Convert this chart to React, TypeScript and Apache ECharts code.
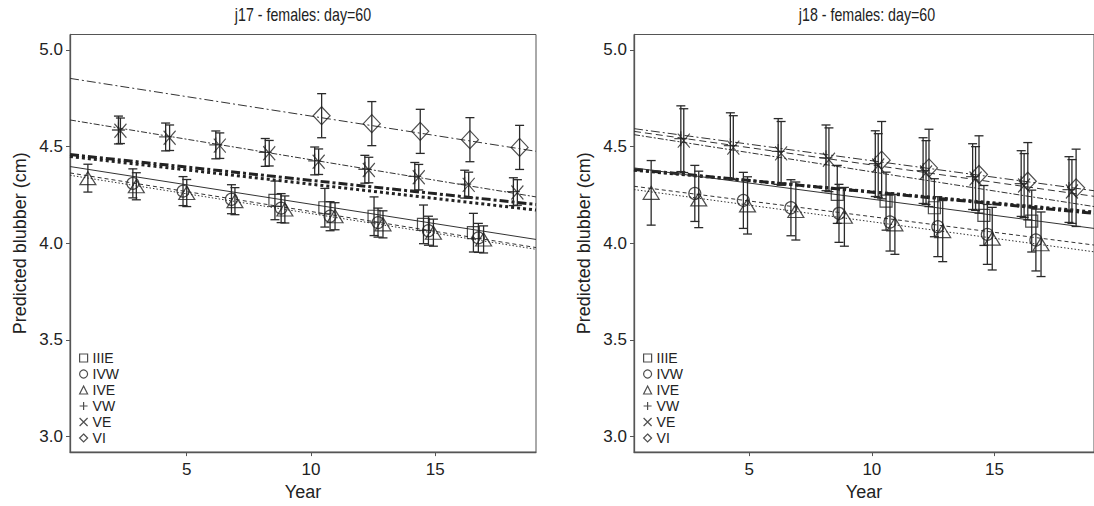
import React, { useEffect, useRef } from "react";
import * as echarts from "echarts";

const groups = ["IIIE", "IVW", "IVE", "VW", "VE", "VI"];
const panelTitles = ["j17 - females: day=60", "j18 - females: day=60"];
const xTicks = [5, 10, 15];
const yTicks = [3.0, 3.5, 4.0, 4.5, 5.0];
const xLimits = [0.3, 19.06];
const yLimits = [2.92, 5.08];

// [year, predicted blubber, half-width of error bar]
const j17_IIIE = [[8.55, 4.222, 0.1], [10.56, 4.184, 0.1], [12.54, 4.14, 0.1], [14.53, 4.098, 0.1], [16.54, 4.055, 0.1]];
const j17_IVW = [[2.83, 4.31, 0.075], [4.85, 4.27, 0.075], [6.8, 4.228, 0.075], [8.8, 4.182, 0.075], [10.77, 4.14, 0.075], [12.7, 4.107, 0.075], [14.73, 4.065, 0.075], [16.74, 4.028, 0.075]];
const j17_IVE = [[1.02, 4.337, 0.072], [2.97, 4.295, 0.07], [5.0, 4.26, 0.07], [6.94, 4.218, 0.07], [8.95, 4.175, 0.07], [10.97, 4.14, 0.07], [12.9, 4.098, 0.07], [14.93, 4.055, 0.07], [16.95, 4.02, 0.07]];
const j17_VW = [[2.25, 4.586, 0.072], [4.15, 4.55, 0.072], [6.17, 4.509, 0.072], [8.16, 4.47, 0.072], [10.15, 4.426, 0.072], [12.17, 4.383, 0.072], [14.18, 4.346, 0.072], [16.19, 4.306, 0.072], [18.15, 4.267, 0.072]];
const j17_VE = [[2.33, 4.582, 0.066], [4.31, 4.546, 0.066], [6.33, 4.505, 0.066], [8.32, 4.466, 0.066], [10.31, 4.422, 0.066], [12.33, 4.379, 0.066], [14.34, 4.342, 0.066], [16.35, 4.302, 0.066], [18.31, 4.263, 0.066]];
const j17_VI = [[10.43, 4.66, 0.114], [12.45, 4.619, 0.114], [14.4, 4.579, 0.114], [16.4, 4.536, 0.114], [18.4, 4.496, 0.114]];

const j18_IIIE = [[8.59, 4.253, 0.15], [10.58, 4.218, 0.15], [12.55, 4.184, 0.15], [14.57, 4.144, 0.155], [16.52, 4.115, 0.16]];
const j18_IVW = [[2.78, 4.258, 0.145], [4.76, 4.222, 0.145], [6.7, 4.184, 0.145], [8.66, 4.155, 0.15], [10.74, 4.11, 0.15], [12.69, 4.086, 0.155], [14.71, 4.046, 0.155], [16.69, 4.017, 0.16]];
const j18_IVE = [[1.0, 4.261, 0.167], [2.94, 4.227, 0.146], [4.93, 4.196, 0.148], [6.9, 4.167, 0.15], [8.88, 4.137, 0.152], [10.94, 4.098, 0.155], [12.89, 4.063, 0.158], [14.91, 4.024, 0.162], [16.9, 3.995, 0.167]];
const j18_VW = [[2.21, 4.541, 0.17], [4.23, 4.505, 0.17], [6.18, 4.475, 0.17], [8.13, 4.442, 0.17], [10.14, 4.412, 0.17], [12.09, 4.376, 0.17], [14.11, 4.345, 0.17], [16.09, 4.309, 0.17], [18.04, 4.278, 0.17]];
const j18_VE = [[2.33, 4.531, 0.165], [4.35, 4.495, 0.165], [6.3, 4.465, 0.165], [8.25, 4.432, 0.165], [10.26, 4.402, 0.165], [12.21, 4.366, 0.165], [14.23, 4.335, 0.165], [16.21, 4.299, 0.165], [18.16, 4.268, 0.165]];
const j18_VI = [[10.4, 4.43, 0.2], [12.33, 4.39, 0.2], [14.37, 4.356, 0.2], [16.36, 4.321, 0.2], [18.33, 4.287, 0.2]];

// fitted lines: [value at left axis limit, value at right axis limit], in group order
const j17_fits = [[4.397, 4.02], [4.364, 3.978], [4.352, 3.969], null, [4.638, 4.24], [4.853, 4.476]];
const j18_fits = [[4.39, 4.077], [4.295, 3.991], [4.278, 3.956], [4.579, 4.243], [4.562, 4.19], [4.593, 4.272]];
// overall (thick) lines
const j17_means = [[4.459, 4.201], [4.449, 4.172]];
const j18_means = [[4.382, 4.155], [4.378, 4.162]];

const panels = [
  { title: panelTitles[0], points: [j17_IIIE, j17_IVW, j17_IVE, j17_VW, j17_VE, j17_VI], fits: j17_fits, means: j17_means },
  { title: panelTitles[1], points: [j18_IIIE, j18_IVW, j18_IVE, j18_VW, j18_VE, j18_VI], fits: j18_fits, means: j18_means },
];

const FONT = "'Liberation Sans', Arial, Helvetica, sans-serif";
const INK = "#222";
const AXIS = "#555";

const symbols: Record<string, string> = {
  IIIE: "rect",
  IVW: "circle",
  IVE: "triangle",
  VW: "path://M5,0L5,10M0,5L10,5",
  VE: "path://M0,0L10,10M10,0L0,10",
  VI: "diamond",
};
const symbolSizes: Record<string, any> = {
  IIIE: 12,
  IVW: 12,
  IVE: [16, 13],
  VW: [13, 15],
  VE: [12, 14],
  VI: [17, 18],
};
const lineTypes: Record<string, any> = {
  IIIE: "solid",
  IVW: [4, 3],
  IVE: [1.5, 2],
  VW: [7, 4],
  VE: [6, 2, 2, 2],
  VI: [9, 3, 2, 3],
};
const meanTypes: any[] = [[9, 3, 3, 3], [3, 3]];

const gridLefts = [70, 634];
const gridTop = 34.5;
const gridW = 466;
const gridH = 419;

function buildOption() {
  const grid: any[] = [];
  const xAxis: any[] = [];
  const yAxis: any[] = [];
  const legend: any[] = [];
  const series: any[] = [];
  const graphic: any[] = [];

  panels.forEach((p, i) => {
    grid.push({
      left: gridLefts[i], top: gridTop, width: gridW, height: gridH,
      show: true, borderColor: AXIS, borderWidth: 1, backgroundColor: "transparent",
    });
    xAxis.push({
      type: "value", gridIndex: i, min: xLimits[0], max: xLimits[1],
      axisLine: { show: true, onZero: false, lineStyle: { color: AXIS, width: 1.3 } },
      axisTick: { show: true, customValues: xTicks, length: 4, lineStyle: { color: AXIS } },
      axisLabel: { customValues: xTicks, margin: 9, fontSize: 17, color: INK, fontFamily: FONT },
      splitLine: { show: false },
      name: "Year", nameLocation: "middle", nameGap: 30,
      nameTextStyle: { fontSize: 18, color: INK, fontFamily: FONT },
    });
    yAxis.push({
      type: "value", gridIndex: i, min: yLimits[0], max: yLimits[1],
      axisLine: { show: true, onZero: false, lineStyle: { color: AXIS, width: 1.3 } },
      axisTick: { show: true, customValues: yTicks, length: 4, lineStyle: { color: AXIS } },
      axisLabel: {
        customValues: yTicks, margin: 7, fontSize: 17, color: INK, fontFamily: FONT,
        formatter: (v: number) => v.toFixed(1),
      },
      splitLine: { show: false },
      name: "Predicted blubber (cm)", nameLocation: "middle", nameGap: 41,
      nameTextStyle: { fontSize: 18, color: INK, fontFamily: FONT },
    });
    graphic.push({
      type: "text", x: gridLefts[i] + gridW / 2, y: 14, scaleX: 0.79, silent: true,
      style: {
        text: p.title, fill: INK, fontSize: 18, fontFamily: FONT,
        align: "center", verticalAlign: "middle",
      },
    });
    legend.push({
      orient: "vertical", left: gridLefts[i] + 9, top: 350,
      itemWidth: 8, itemHeight: 8, itemGap: 0, selectedMode: false, padding: 0,
      textStyle: { fontSize: 14, lineHeight: 16, color: INK, fontFamily: FONT },
      itemStyle: { color: "rgba(0,0,0,0)", borderColor: INK, borderWidth: 1.2 },
      data: groups.map((g) => ({ name: g, icon: symbols[g] })),
    });

    p.means.forEach((m, k) => {
      series.push({
        type: "line", name: "overall " + (k + 1) + " " + i, xAxisIndex: i, yAxisIndex: i,
        data: [[xLimits[0], m[0]], [xLimits[1], m[1]]],
        symbol: "none", silent: true, z: 2,
        lineStyle: { color: INK, width: 3, type: meanTypes[k] },
      });
    });

    groups.forEach((g, gi) => {
      const fit = p.fits[gi];
      if (fit) {
        series.push({
          type: "line", name: g + " fit " + i, xAxisIndex: i, yAxisIndex: i,
          data: [[xLimits[0], fit[0]], [xLimits[1], fit[1]]],
          symbol: "none", silent: true, z: 2,
          lineStyle: { color: "#333", width: 1, type: lineTypes[g] },
        });
      }
      const pts = p.points[gi];
      series.push({
        type: "custom", name: g + " se " + i, xAxisIndex: i, yAxisIndex: i,
        data: pts, encode: { x: 0, y: 1 }, silent: true, z: 3,
        renderItem: (params: any, api: any) => {
          const x = api.value(0);
          const y = api.value(1);
          const e = api.value(2);
          const top = api.coord([x, y + e]);
          const bot = api.coord([x, y - e]);
          const w = 4.5;
          const st = { stroke: "#2a2a2a", lineWidth: 1.3 };
          return {
            type: "group",
            children: [
              { type: "line", shape: { x1: top[0], y1: top[1], x2: bot[0], y2: bot[1] }, style: st },
              { type: "line", shape: { x1: top[0] - w, y1: top[1], x2: top[0] + w, y2: top[1] }, style: st },
              { type: "line", shape: { x1: bot[0] - w, y1: bot[1], x2: bot[0] + w, y2: bot[1] }, style: st },
            ],
          };
        },
      });
      series.push({
        type: "scatter", name: g, xAxisIndex: i, yAxisIndex: i,
        data: pts.map((d) => [d[0], d[1]]),
        symbol: symbols[g], symbolSize: symbolSizes[g], z: 4, silent: true,
        itemStyle: { color: "rgba(0,0,0,0)", borderColor: INK, borderWidth: 1.2 },
      });
    });
  });

  return { animation: false, backgroundColor: "#fff", grid, xAxis, yAxis, legend, series, graphic };
}

export default function App() {
  const ref = useRef<HTMLDivElement>(null);
  useEffect(() => {
    document.body.style.margin = "0";
    if (!ref.current) return;
    const chart = echarts.init(ref.current, undefined, { renderer: "svg" });
    chart.setOption(buildOption() as any);
    return () => chart.dispose();
  }, []);
  return <div ref={ref} style={{ width: 1094, height: 506 }} />;
}
